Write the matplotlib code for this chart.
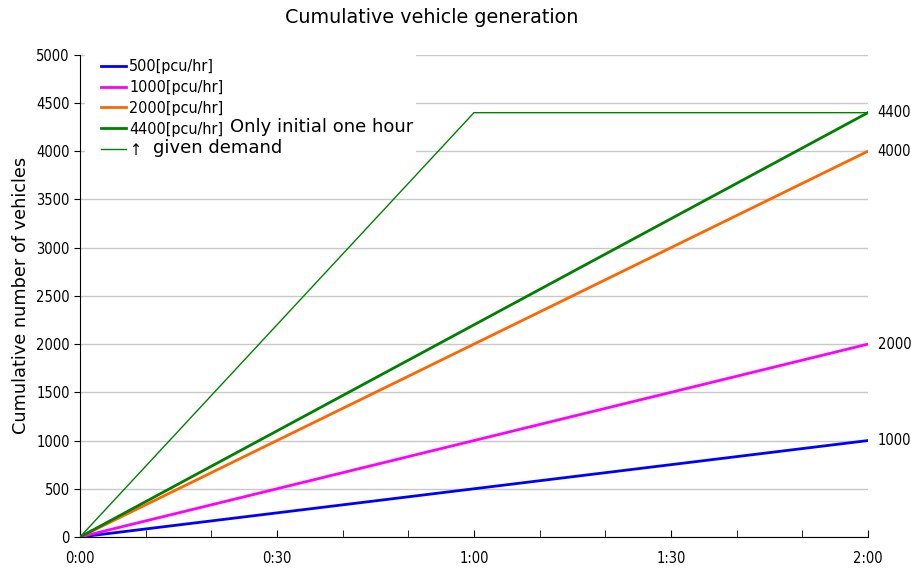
import matplotlib.pyplot as plt
from matplotlib.patches import Rectangle
from matplotlib import font_manager

# data (time in minutes)
t = [0, 120]
rate_labels = ['500[pcu/hr]', '1000[pcu/hr]', '2000[pcu/hr]', '4400[pcu/hr]']
cum_500 = [0, 1000]
cum_1000 = [0, 2000]
cum_2000 = [0, 4000]
cum_4400 = [0, 4400]
t_initial = [0, 60, 120]
cum_initial = [0, 4400, 4400]
end_labels = ['1000', '2000', '4000', '4400']
xtick_pos = [0, 30, 60, 90, 120]
xtick_labels = ['0:00', '0:30', '1:00', '1:30', '2:00']

narrow = font_manager.FontProperties(family='DejaVu Sans', stretch='condensed', size=10.5)
narrow_leg = font_manager.FontProperties(family='DejaVu Sans', stretch='condensed', size=11.5)

fig = plt.figure(figsize=(9.12, 5.72), dpi=100)
ax = fig.add_axes([0.0877, 0.0612, 0.864, 0.843])

colors = ['#0000FF', '#FF00FF', '#FF6600', '#008000']
series = [cum_500, cum_1000, cum_2000, cum_4400]
for s, c, lab in zip(series, colors, rate_labels):
    ax.plot(t, s, color=c, lw=2, label=lab, zorder=3)
ax.plot(t_initial, cum_initial, color='#008000', lw=1, label='\u2191', zorder=3)

for s, lab in zip(series, end_labels):
    ax.text(121.5, s[-1], lab, va='center', ha='left', fontproperties=narrow)

ax.set_xlim(0, 120)
ax.set_ylim(0, 5000)
ax.set_yticks(range(0, 5001, 500))
ax.set_xticks(xtick_pos)
ax.set_xticklabels(xtick_labels)
ax.set_xticks(range(0, 121, 10), minor=True)
ax.tick_params(axis='x', which='both', direction='in', length=5, pad=10)
ax.tick_params(axis='y', direction='out', length=4)
for lbl in ax.get_xticklabels() + ax.get_yticklabels():
    lbl.set_fontproperties(narrow)

ax.grid(axis='y', color='#c8c8c8', lw=1)
ax.set_axisbelow(True)
for side in ['top', 'right']:
    ax.spines[side].set_visible(False)

ax.set_ylabel('Cumulative number of vehicles', fontsize=12.8, labelpad=4)
fig.text(0.473, 0.97, 'Cumulative vehicle generation', ha='center', va='center', fontsize=13.8)

# white box behind legend
ax.add_patch(Rectangle((0.006, 0.77), 0.42, 0.23, transform=ax.transAxes,
                       facecolor='white', edgecolor='none', zorder=2))
leg = ax.legend(loc='upper left', bbox_to_anchor=(0.018, 1.004), frameon=False,
                prop=narrow_leg, handlelength=1.6,
                handletextpad=0.2, labelspacing=0.37, borderaxespad=0)
leg.set_zorder(4)
ax.text(0.19, 0.851, 'Only initial one hour', transform=ax.transAxes,
        fontsize=13, va='center', zorder=5)
ax.text(0.093, 0.806, 'given demand', transform=ax.transAxes,
        fontsize=13, va='center', zorder=5)

fig.savefig('out.png', dpi=100)
